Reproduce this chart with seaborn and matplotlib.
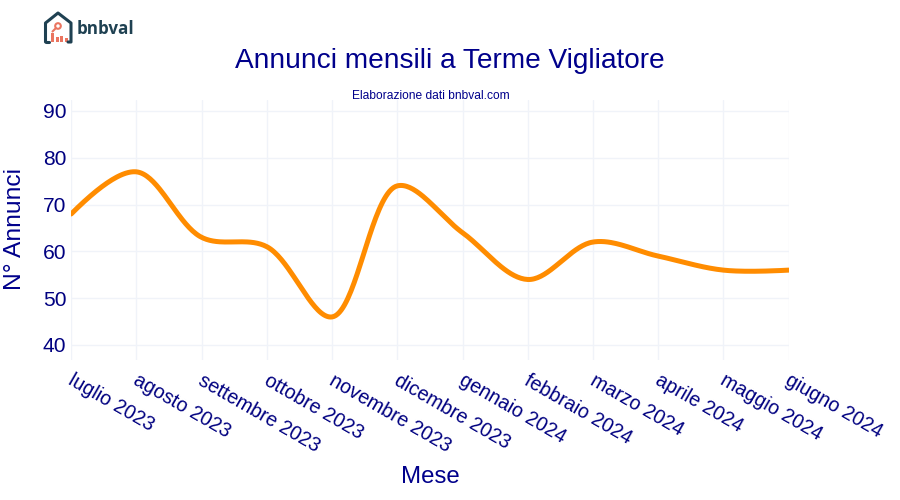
import numpy as np
import pandas as pd
import matplotlib
matplotlib.use('Agg')
import matplotlib.pyplot as plt
from matplotlib.patches import Circle, Rectangle
from matplotlib.transforms import ScaledTranslation
import seaborn as sns

# Data
MONTHS = ['luglio 2023', 'agosto 2023', 'settembre 2023', 'ottobre 2023', 'novembre 2023',
          'dicembre 2023', 'gennaio 2024', 'febbraio 2024', 'marzo 2024', 'aprile 2024',
          'maggio 2024', 'giugno 2024']
LISTINGS = [68, 77, 63, 61, 46, 74, 64, 54, 62, 59, 56, 56]
Y_TICKS = [40, 50, 60, 70, 80, 90]

NAVY = '#00008b'
ORANGE = '#ff8c00'
GRID = '#f0f3f9'
LOGO_DARK = '#1f4152'
LOGO_RED = '#ea7560'

# Figure geometry, in pixels
W, H = 900, 500
LEFT, RIGHT = 71.2, 788.6
TOP, BOTTOM = 100, 360
PX_X = (RIGHT - LEFT) / (len(MONTHS) - 1)
PX_Y = 4.68
Y_MIN = 40 - (BOTTOM - 345) / PX_Y
Y_MAX = 40 + (345 - TOP) / PX_Y


def fpx(size):
    # font size given in pixels, figure is at dpi 100
    return size * 0.72


def spline_curve(xs, ys, samples=40):
    # Catmull-Rom style smoothing, done in pixel space so the curve has the right shape
    pts = np.column_stack([np.asarray(xs, float) * PX_X, np.asarray(ys, float) * PX_Y])
    tangents = []
    for prev, cur, nxt in zip(pts[:-2], pts[1:-1], pts[2:]):
        d1 = prev - cur
        d2 = nxt - cur
        d1a = np.hypot(*d1) ** 0.5
        d2a = np.hypot(*d2) ** 0.5
        num = d2a ** 2 * d1 - d1a ** 2 * d2
        tangents.append((cur + num / (3 * d2a * (d1a + d2a)), cur - num / (3 * d1a * (d1a + d2a))))

    t = np.linspace(0, 1, samples)[:, None]
    parts = [(1 - t) ** 2 * pts[0] + 2 * t * (1 - t) * tangents[0][0] + t ** 2 * pts[1]]
    for i in range(2, len(pts) - 1):
        c1, c2 = tangents[i - 2][1], tangents[i - 1][0]
        parts.append((1 - t) ** 3 * pts[i - 1] + 3 * t * (1 - t) ** 2 * c1
                     + 3 * t ** 2 * (1 - t) * c2 + t ** 3 * pts[i])
    parts.append((1 - t) ** 2 * pts[-2] + 2 * t * (1 - t) * tangents[-1][1] + t ** 2 * pts[-1])
    curve = np.vstack(parts)
    return curve[:, 0] / PX_X, curve[:, 1] / PX_Y


sns.set_theme(style='white')
plt.rcParams['font.family'] = ['Liberation Sans', 'DejaVu Sans']

fig = plt.figure(figsize=(W / 100, H / 100), dpi=100)
ax = fig.add_axes([LEFT / W, 1 - BOTTOM / H, (RIGHT - LEFT) / W, (BOTTOM - TOP) / H])

smooth_x, smooth_y = spline_curve(range(len(MONTHS)), LISTINGS)
df = pd.DataFrame({'x': smooth_x, 'y': smooth_y})
sns.lineplot(data=df, x='x', y='y', sort=False, color=ORANGE, linewidth=3.6, ax=ax, zorder=3, estimator=None)

ax.set_xlim(0, len(MONTHS) - 1)
ax.set_ylim(Y_MIN, Y_MAX)
ax.set_xlabel('')
ax.set_ylabel('')
ax.grid(True, color=GRID, linewidth=1)
ax.set_axisbelow(True)
for side in ax.spines.values():
    side.set_visible(False)

ax.set_yticks(Y_TICKS)
ax.set_xticks(range(len(MONTHS)))
ax.set_xticklabels(MONTHS, rotation=-30, rotation_mode='anchor', ha='left', va='center')
ax.tick_params(axis='x', labelsize=fpx(19.6), length=0, pad=13.5)
ax.tick_params(axis='y', labelsize=fpx(21), length=0, pad=3.5)
nudge = ScaledTranslation(-1.5 / 100, 0, fig.dpi_scale_trans)
for lab in ax.get_xticklabels():
    lab.set_color('#000080')
    lab.set_transform(lab.get_transform() + nudge)
for lab in ax.get_yticklabels():
    lab.set_color('#000080')

fig.text(450 / W, 1 - 61 / H, 'Annunci mensili a Terme Vigliatore', color=NAVY, fontsize=fpx(28), ha='center', va='center')
fig.text(431 / W, 1 - 95.5 / H, 'Elaborazione dati bnbval.com', color=NAVY, fontsize=fpx(12), ha='center', va='center')
fig.text(430 / W, 1 - 477 / H, 'Mese', color=NAVY, fontsize=fpx(24), ha='center', va='center')
fig.text(15.5 / W, 1 - 229 / H, 'N° Annunci', color=NAVY, fontsize=fpx(24.5), rotation=90, ha='center', va='center')

# Logo, drawn in an overlay with pixel coordinates
logo = fig.add_axes([0, 0, 1, 1], facecolor='none')
logo.set_xlim(0, W)
logo.set_ylim(H, 0)
logo.axis('off')
logo.plot([45.5, 45.5, 58, 71, 71, 68], [42, 23, 13, 23, 42, 42], color=LOGO_DARK, linewidth=2.2,
          solid_joinstyle='round', solid_capstyle='round')
logo.plot([45.5, 49], [42, 42], color=LOGO_DARK, linewidth=2.2, solid_capstyle='round')
logo.add_patch(Circle((58, 26), 2.8, fill=False, edgecolor=LOGO_RED, linewidth=1.5))
logo.plot([55.5, 52.5], [28.5, 31.5], color=LOGO_RED, linewidth=1.5)
for bar_x, bar_top in zip([51, 55.5, 60, 64.5], [33, 37, 35.5, 38]):
    logo.add_patch(Rectangle((bar_x, bar_top), 3, 42 - bar_top, facecolor=LOGO_RED, edgecolor='none'))
logo.text(77, 29.5, 'bnbval', color=LOGO_DARK, fontsize=fpx(17), fontweight='bold',
          family=['Open Sans', 'DejaVu Sans'], ha='left', va='center')

fig.savefig('out.png', dpi=100)
